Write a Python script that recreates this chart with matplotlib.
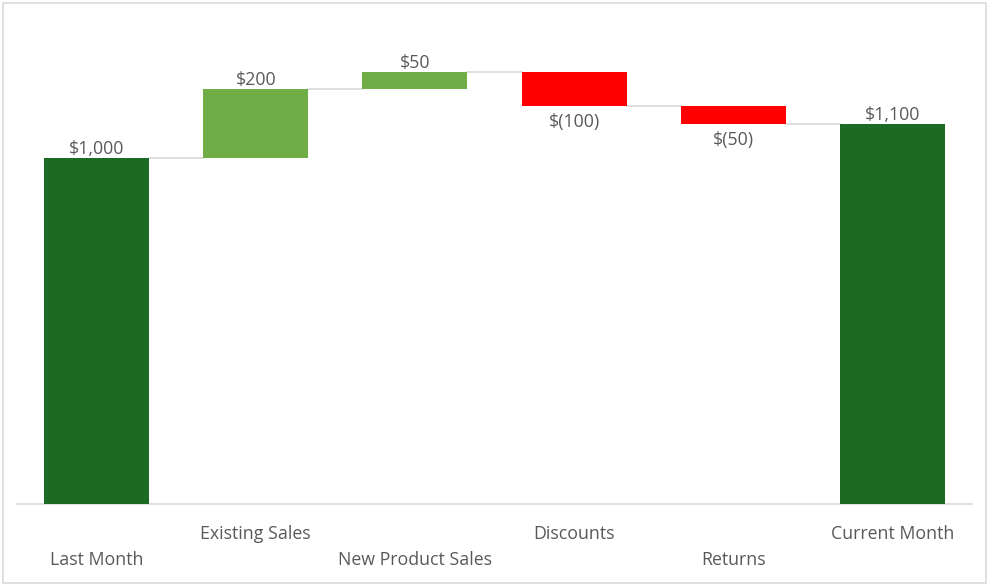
import matplotlib.pyplot as plt
from matplotlib.patches import Rectangle

categories = ['Last Month', 'Existing Sales', 'New Product Sales', 'Discounts', 'Returns', 'Current Month']
changes = [1000, 200, 50, -100, -50, 1100]
kinds = ['total', 'up', 'up', 'down', 'down', 'total']
value_labels = ['$1,000', '$200', '$50', '$(100)', '$(50)', '$1,100']

colors = {'total': '#1B6B25', 'up': '#70AD47', 'down': '#FF0000'}
text_color = '#595959'

plt.rcParams['font.family'] = ['Open Sans', 'DejaVu Sans']

fig = plt.figure(figsize=(9.89, 5.87), dpi=100)
ax = fig.add_axes([17 / 989, 1 - 504 / 587, 955 / 989, 484 / 587])

# waterfall bottoms / tops
bottoms = []
tops = []
running = 0
for v, k in zip(changes, kinds):
    if k == 'total':
        bottoms.append(0)
        tops.append(v)
        running = v
    else:
        start = running
        running = running + v
        bottoms.append(min(start, running))
        tops.append(max(start, running))

width = 0.66
x = list(range(len(categories)))
heights = [t - b for t, b in zip(tops, bottoms)]
ax.bar(x, heights, bottom=bottoms, width=width,
       color=[colors[k] for k in kinds], zorder=3)

# connector lines
level = 0
for i in range(len(categories) - 1):
    if kinds[i] == 'total':
        level = changes[i]
    else:
        level = level + changes[i]
    ax.plot([i + width / 2, i + 1 - width / 2], [level, level],
            color='#D9D9D9', lw=1.2, zorder=2)

# data labels
for i, (k, lab) in enumerate(zip(kinds, value_labels)):
    if k == 'down':
        ax.annotate(lab, (i, bottoms[i]), xytext=(0, -5), textcoords='offset points',
                    ha='center', va='top', color=text_color, fontsize=12.8)
    else:
        ax.annotate(lab, (i, tops[i]), xytext=(0, 0), textcoords='offset points',
                    ha='center', va='bottom', color=text_color, fontsize=12.8)

ax.set_xlim(-0.5, 5.5)
ax.set_ylim(0, 1400)
ax.set_xticks([])
ax.set_yticks([])
for s in ['top', 'right', 'left']:
    ax.spines[s].set_visible(False)
ax.spines['bottom'].set_color('#D9D9D9')
ax.spines['bottom'].set_linewidth(1.2)

# staggered category labels
for i, c in enumerate(categories):
    yoff = -30 if i % 2 == 1 else -56
    ax.annotate(c, (i, 0), xytext=(0, yoff), textcoords='offset pixels',
                ha='center', va='center', color=text_color, fontsize=12.8)

# outer border
fig.patches.append(Rectangle((3 / 989, 4 / 587), 983 / 989, 580 / 587,
                             transform=fig.transFigure, fill=False,
                             edgecolor='#D9D9D9', lw=1.2))

fig.savefig('out.png', dpi=100)
